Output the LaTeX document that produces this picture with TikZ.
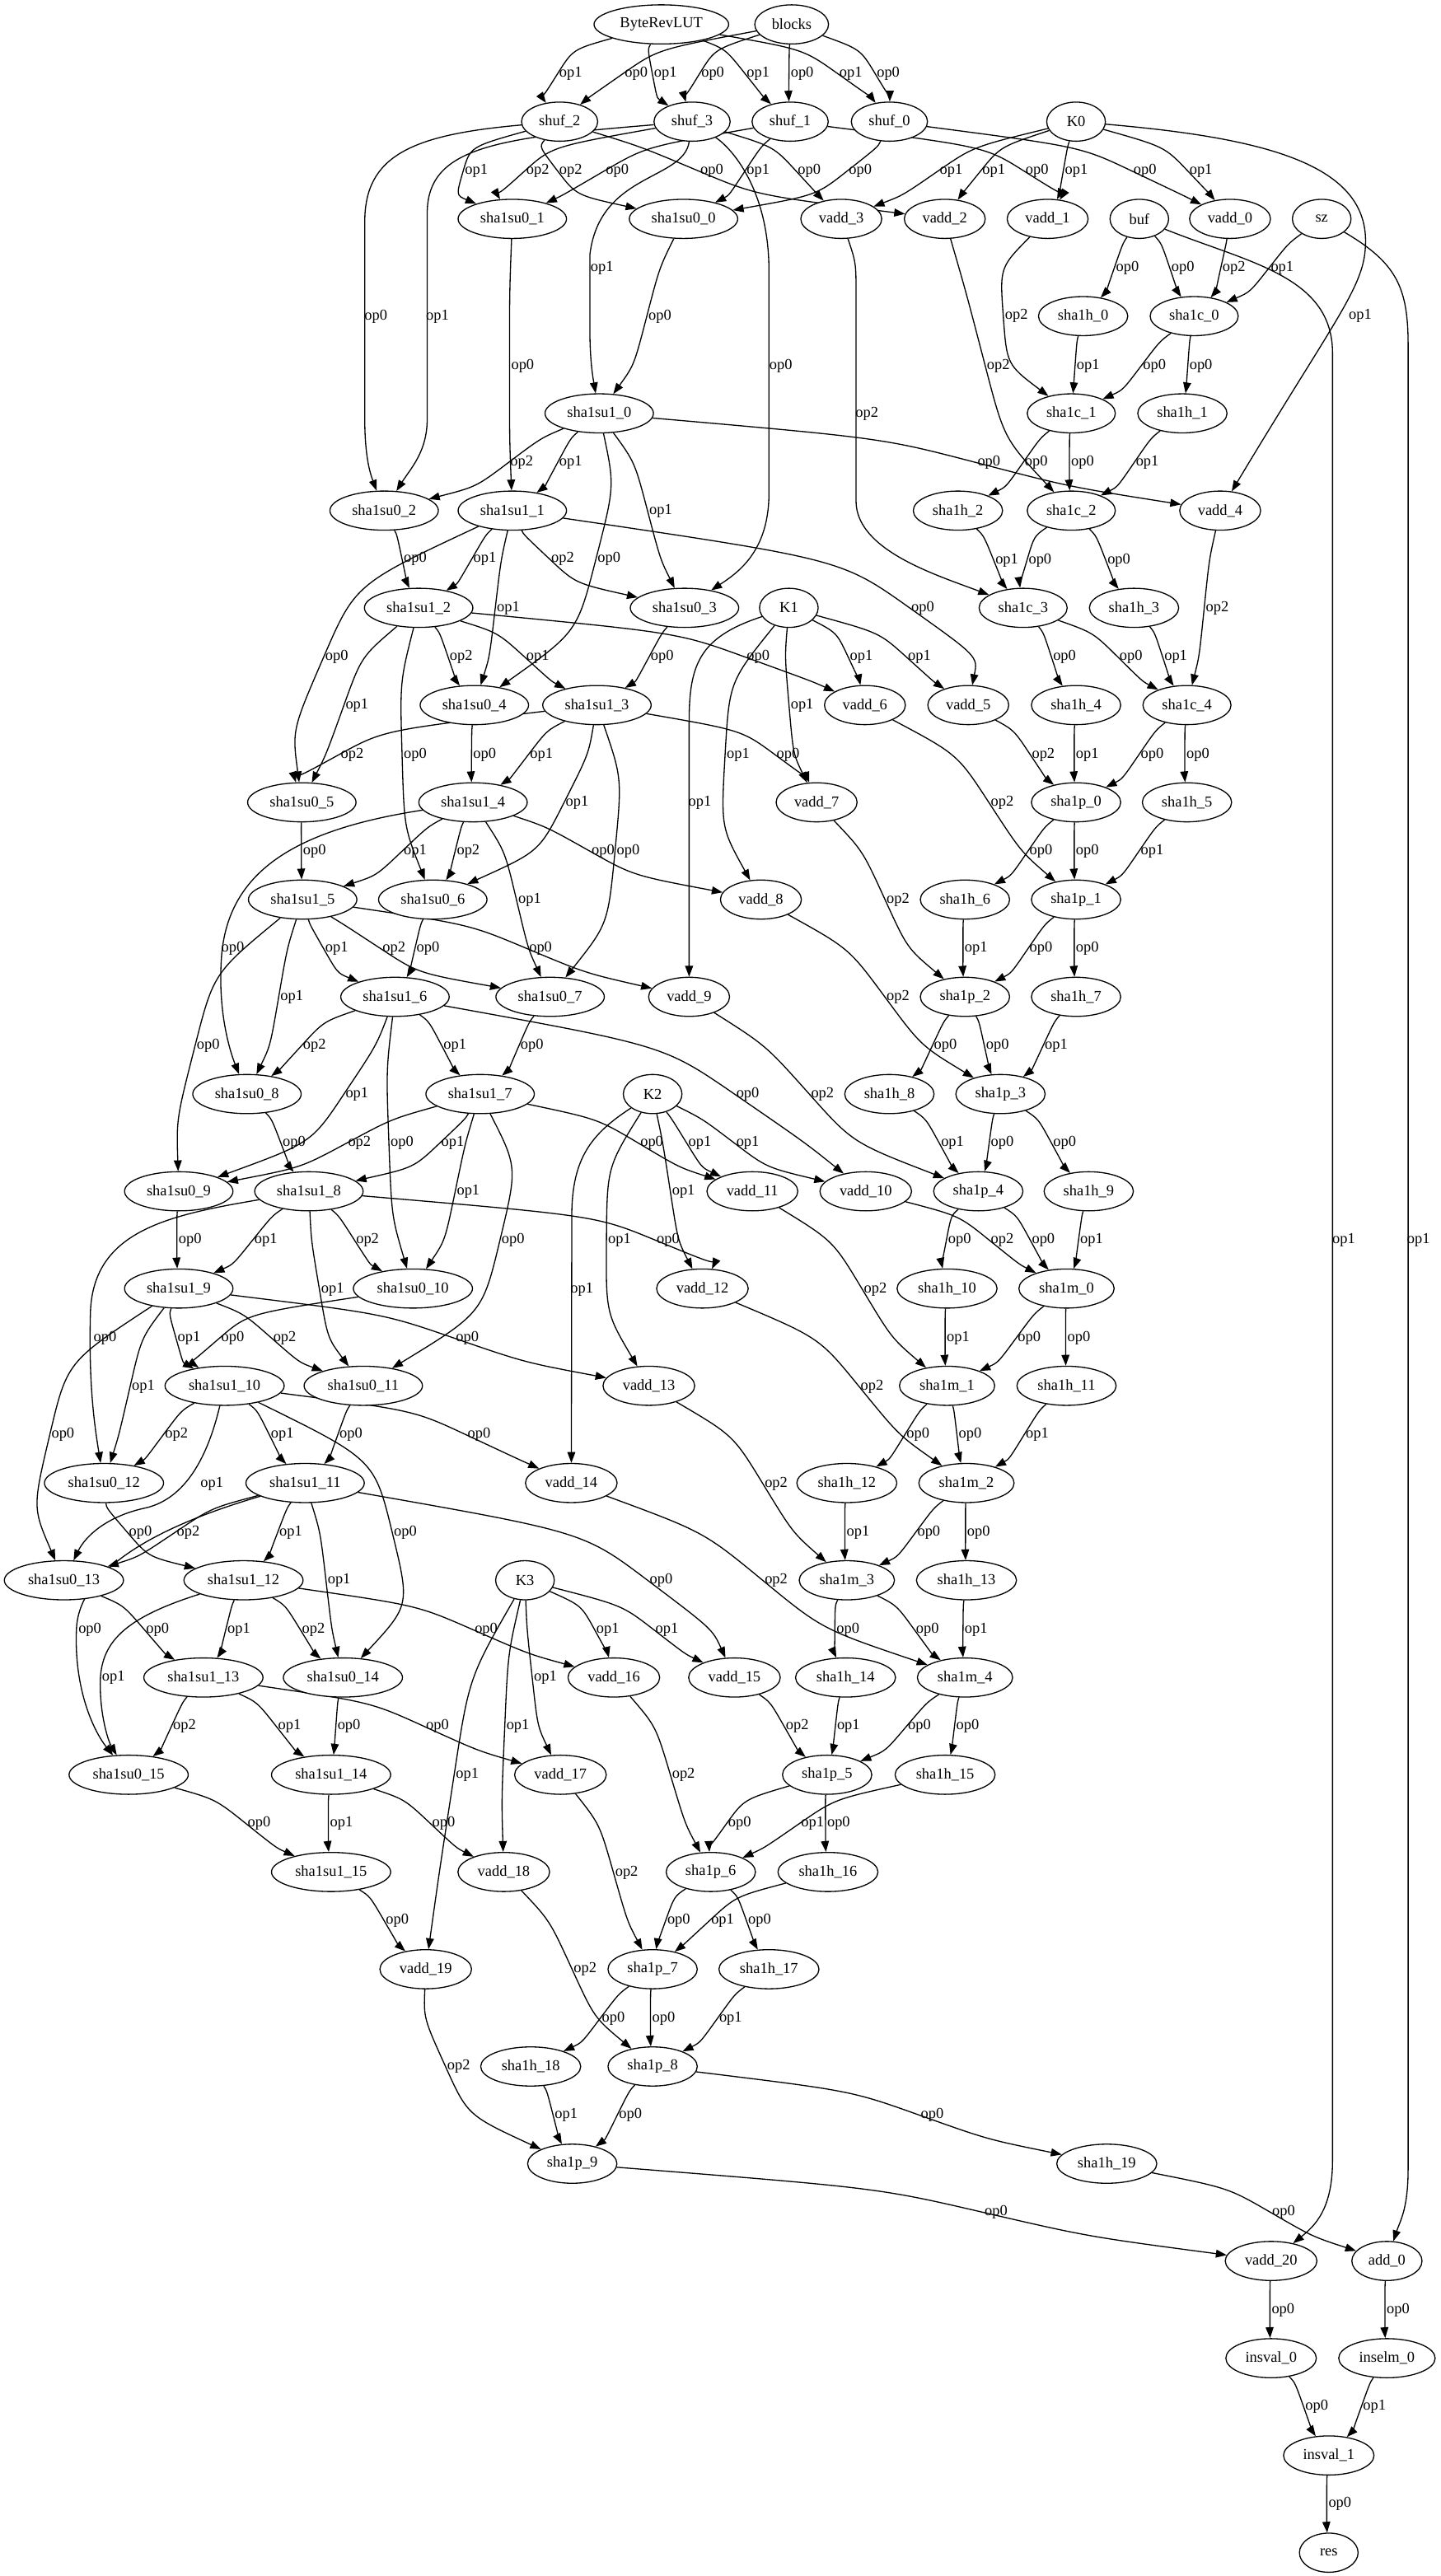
\documentclass[tikz,border=0pt]{standalone}
\usepackage{fontspec}
\setmainfont{Liberation Serif}
\usetikzlibrary{arrows.meta,shapes.geometric,calc}
\pgfdeclarelayer{bg}
\pgfsetlayers{bg,main}
\tikzset{
  nd/.style={draw, ellipse, line width=0.66pt, minimum width=35.7pt, minimum height=23.8pt, inner xsep=3.8pt, inner ysep=1pt, fill=white, font=\fontsize{9.25}{10}\selectfont},
  ed/.style={draw, line width=0.66pt, -{Triangle[length=6.6pt,width=4.8pt]}},
  lab/.style={inner sep=0pt, font=\fontsize{9.25}{10}\selectfont}
}
\newcommand\gvN[4]{\node[nd] (#1) at (#2,{-(14.85+59.19*#3)}) {#4};}
\newcommand\gvE[5]{\begin{pgfonlayer}{bg}\draw[ed] let \p1=(#1), \p2=(#2) in (#1) .. controls ({#4-8-0.15*((\x2)-(\x1))},{-#5-0.25*((\y2)-(\y1))}) .. ({#4-8},{-#5}) .. controls ({#4-8+0.15*((\x2)-(\x1))},{-#5+0.25*((\y2)-(\y1))}) .. (#2);\end{pgfonlayer}\node[lab] at (#4,-#5) {#3};}
\newcommand\gvM[4]{\begin{pgfonlayer}{bg}\draw[ed] #4;\end{pgfonlayer}\node[lab] at (#2,-#3) {#1};}
\begin{document}
\begin{tikzpicture}[x=1pt,y=1pt]
\useasboundingbox (0,0) rectangle (877,-1568);
% nodes
\gvN{brl}{402.5}{0}{ByteRevLUT}
\gvN{blocks}{481.8}{0}{blocks}
\gvN{shuf2}{340.6}{1}{shuf\_2}
\gvN{shuf3}{421.2}{1}{shuf\_3}
\gvN{shuf1}{480.9}{1}{shuf\_1}
\gvN{shuf0}{541.3}{1}{shuf\_0}
\gvN{K0}{654.9}{1}{K0}
\gvN{sa1}{311.8}{2}{sha1su0\_1}
\gvN{sa0}{416.0}{2}{sha1su0\_0}
\gvN{va3}{512.0}{2}{vadd\_3}
\gvN{va2}{575.0}{2}{vadd\_2}
\gvN{va1}{637.6}{2}{vadd\_1}
\gvN{buf}{693.4}{2}{buf}
\gvN{va0}{748.6}{2}{vadd\_0}
\gvN{sz}{804.4}{2}{sz}
\gvN{h0}{659.2}{3}{sha1h\_0}
\gvN{c0}{726.8}{3}{sha1c\_0}
\gvN{sb0}{364.7}{4}{sha1su1\_0}
\gvN{c1}{652.0}{4}{sha1c\_1}
\gvN{h1}{719.6}{4}{sha1h\_1}
\gvN{sa2}{233.8}{5}{sha1su0\_2}
\gvN{sb1}{311.8}{5}{sha1su1\_1}
\gvN{h2}{583.0}{5}{sha1h\_2}
\gvN{c2}{652.0}{5}{sha1c\_2}
\gvN{va4}{742.6}{5}{vadd\_4}
\gvN{sb2}{254.8}{6}{sha1su1\_2}
\gvN{sa3}{416.6}{6}{sha1su0\_3}
\gvN{K1}{480.1}{6}{K1}
\gvN{c3}{622.7}{6}{sha1c\_3}
\gvN{h3}{690.2}{6}{sha1h\_3}
\gvN{sa4}{288.7}{7}{sha1su0\_4}
\gvN{sb3}{363.3}{7}{sha1su1\_3}
\gvN{va6}{526.4}{7}{vadd\_6}
\gvN{va5}{589.3}{7}{vadd\_5}
\gvN{h4}{654.9}{7}{sha1h\_4}
\gvN{c4}{722.4}{7}{sha1c\_4}
\gvN{sa5}{183.7}{8}{sha1su0\_5}
\gvN{sb4}{287.9}{8}{sha1su1\_4}
\gvN{va7}{497.0}{8}{vadd\_7}
\gvN{p0}{654.9}{8}{sha1p\_0}
\gvN{h5}{722.4}{8}{sha1h\_5}
\gvN{sb5}{184.2}{9}{sha1su1\_5}
\gvN{sa6}{263.4}{9}{sha1su0\_6}
\gvN{va8}{463.1}{9}{vadd\_8}
\gvN{h6}{587.3}{9}{sha1h\_6}
\gvN{p1}{654.9}{9}{sha1p\_1}
\gvN{sb6}{240.4}{10}{sha1su1\_6}
\gvN{sa7}{334.8}{10}{sha1su0\_7}
\gvN{va9}{419.4}{10}{vadd\_9}
\gvN{p2}{587.3}{10}{sha1p\_2}
\gvN{h7}{654.9}{10}{sha1h\_7}
\gvN{sa8}{150.3}{11}{sha1su0\_8}
\gvN{sb7}{292.2}{11}{sha1su1\_7}
\gvN{K2}{397.2}{11}{K2}
\gvN{h8}{541.3}{11}{sha1h\_8}
\gvN{p3}{608.9}{11}{sha1p\_3}
\gvN{sa9}{108.8}{12}{sha1su0\_9}
\gvN{sb8}{188.0}{12}{sha1su1\_8}
\gvN{va11}{457.9}{12}{vadd\_11}
\gvN{va10}{526.9}{12}{vadd\_10}
\gvN{p4}{595.4}{12}{sha1p\_4}
\gvN{h9}{662.6}{12}{sha1h\_9}
\gvN{sb9}{108.8}{13}{sha1su1\_9}
\gvN{sa10}{251.3}{13}{sha1su0\_10}
\gvN{va12}{427.5}{13}{vadd\_12}
\gvN{h10}{576.4}{13}{sha1h\_10}
\gvN{m0}{649.1}{13}{sha1m\_0}
\gvN{sb10}{136.7}{14}{sha1su1\_10}
\gvN{sa11}{221.1}{14}{sha1su0\_11}
\gvN{va13}{394.9}{14}{vadd\_13}
\gvN{m1}{576.4}{14}{sha1m\_1}
\gvN{h11}{649.1}{14}{sha1h\_11}
\gvN{sa12}{63.3}{15}{sha1su0\_12}
\gvN{sb11}{185.7}{15}{sha1su1\_11}
\gvN{va14}{347.7}{15}{vadd\_14}
\gvN{h12}{515.4}{15}{sha1h\_12}
\gvN{m2}{588.2}{15}{sha1m\_2}
\gvN{sa13}{38.9}{16}{sha1su0\_13}
\gvN{sb12}{148.2}{16}{sha1su1\_12}
\gvN{K3}{319.5}{16}{K3}
\gvN{m3}{515.4}{16}{sha1m\_3}
\gvN{h13}{588.2}{16}{sha1h\_13}
\gvN{sb13}{123.8}{17}{sha1su1\_13}
\gvN{sa14}{208.7}{17}{sha1su0\_14}
\gvN{va16}{373.6}{17}{vadd\_16}
\gvN{va15}{447.0}{17}{vadd\_15}
\gvN{h14}{514.6}{17}{sha1h\_14}
\gvN{m4}{587.3}{17}{sha1m\_4}
\gvN{sa15}{78.3}{18}{sha1su0\_15}
\gvN{sb14}{201.5}{18}{sha1su1\_14}
\gvN{va17}{341.1}{18}{vadd\_17}
\gvN{p5}{503.4}{18}{sha1p\_5}
\gvN{h15}{575.2}{18}{sha1h\_15}
\gvN{sb15}{201.5}{19}{sha1su1\_15}
\gvN{va18}{306.6}{19}{vadd\_18}
\gvN{p6}{432.6}{19}{sha1p\_6}
\gvN{h16}{503.9}{19}{sha1h\_16}
\gvN{va19}{259.1}{20}{vadd\_19}
\gvN{p7}{397.2}{20}{sha1p\_7}
\gvN{h17}{468.0}{20}{sha1h\_17}
\gvN{h18}{323.0}{21}{sha1h\_18}
\gvN{p8}{397.2}{21}{sha1p\_8}
\gvN{p9}{348.3}{22}{sha1p\_9}
\gvN{h19}{673.6}{22}{sha1h\_19}
\gvN{va20}{773.6}{23}{vadd\_20}
\gvN{add0}{844.1}{23}{add\_0}
\gvN{insval0}{773.6}{24}{insval\_0}
\gvN{inselm0}{844.1}{24}{inselm\_0}
\gvN{insval1}{808.7}{25}{insval\_1}
\gvN{res}{808.7}{26}{res}
% top
\gvE{brl}{shuf2}{op1}{347.4}{44.8}
\gvE{blocks}{shuf2}{op0}{387.2}{44.8}
\gvE{brl}{shuf3}{op1}{405}{44.8}
\gvE{blocks}{shuf3}{op0}{433.8}{44.8}
\gvE{brl}{shuf1}{op1}{461.4}{44.8}
\gvE{blocks}{shuf1}{op0}{488.2}{44.8}
\gvE{brl}{shuf0}{op1}{517.8}{44.8}
\gvE{blocks}{shuf0}{op0}{540.6}{44.8}
% sha1su0 inputs
\gvE{shuf0}{sa0}{op0}{523.6}{104.1}
\gvE{shuf1}{sa0}{op1}{461.4}{104.1}
\gvE{shuf2}{sa0}{op2}{347.4}{104.1}
\gvE{shuf1}{sa1}{op0}{375.7}{104.1}
\gvE{shuf2}{sa1}{op1}{289.9}{104.1}
\gvE{shuf3}{sa1}{op2}{327.3}{104.1}
\gvM{op0}{228.8}{192.7}{(shuf2) .. controls (250,-82) and (222,-95) .. (222,-135) -- (222,-255) .. controls (222,-280) and (226,-290) .. (sa2)}
\gvM{op1}{266.3}{192.7}{(shuf3) .. controls (300,-84) and (260,-90) .. (260,-130) -- (260,-255) .. controls (260,-275) and (250,-285) .. (sa2)}
\gvE{sb0}{sa2}{op2}{317.5}{281.5}
\gvM{op0}{475.2}{222.6}{(shuf3) .. controls (445,-90) and (468,-115) .. (468,-165) -- (468,-300) .. controls (468,-335) and (450,-348) .. (sa3)}
\gvE{sb0}{sa3}{op1}{402.1}{310.9}
\gvE{sb1}{sa3}{op2}{342.5}{340.3}
\gvE{sb0}{sa4}{op0}{370.7}{340.3}
\gvE{sb1}{sa4}{op1}{309.4}{370.3}
\gvE{sb2}{sa4}{op2}{280.7}{399.9}
\gvE{sb1}{sa5}{op0}{205}{399.9}
\gvE{sb2}{sa5}{op1}{217.3}{429.3}
\gvE{sb3}{sa5}{op2}{214.4}{459.3}
\gvE{sb2}{sa6}{op0}{252.7}{459.3}
\gvE{sb3}{sa6}{op1}{351.2}{488.7}
\gvE{sb4}{sa6}{op2}{285}{518.1}
\gvE{sb3}{sa7}{op0}{382.3}{518.1}
\gvE{sb4}{sa7}{op1}{322.4}{548}
\gvE{sb5}{sa7}{op2}{239.8}{577.5}
\gvM{op0}{141.6}{577.5}{(sb4) .. controls (180,-505) and (140,-530) .. (135,-580) .. controls (132,-615) and (140,-640) .. (sa8)}
\gvE{sb5}{sa8}{op1}{177.6}{606.9}
\gvE{sb6}{sa8}{op2}{191.4}{636.6}
\gvE{sb5}{sa9}{op0}{126.7}{636.6}
\gvE{sb6}{sa9}{op1}{217.3}{666}
\gvE{sb7}{sa9}{op2}{218.8}{695.9}
\gvE{sb6}{sa10}{op0}{244.7}{695.9}
\gvE{sb7}{sa10}{op1}{285}{725.4}
\gvE{sb8}{sa10}{op2}{223.7}{754.8}
\gvE{sb7}{sa11}{op0}{312.3}{754.8}
\gvE{sb8}{sa11}{op1}{202.4}{784.8}
\gvE{sb9}{sa11}{op2}{173.3}{814.5}
\gvM{op0}{63.9}{814.5}{(sb8) .. controls (100,-740) and (56,-750) .. (55,-800) .. controls (54,-840) and (57,-865) .. (sa12)}
\gvE{sb9}{sa12}{op1}{87.2}{843.9}
\gvE{sb10}{sa12}{op2}{107.4}{873.3}
\gvE{sb9}{sa13}{op0}{38.3}{873.3}
\gvM{op1}{129}{903.3}{(sb10) .. controls (128,-880) and (116,-912) .. (88,-918) .. controls (65,-923) and (52,-935) .. (sa13)}
\gvE{sb11}{sa13}{op2}{114.6}{932.7}
\gvE{sb10}{sa14}{op0}{246.7}{932.7}
\gvE{sb11}{sa14}{op1}{206.4}{962.1}
\gvE{sb12}{sa14}{op2}{190.8}{992}
\gvM{op0}{54.7}{992}{(sb11) .. controls (110,-925) and (48,-950) .. (46.5,-992) .. controls (45,-1030) and (58,-1055) .. (sa15)}
\gvM{op1}{69.1}{1021}{(sb12) .. controls (75,-985) and (61,-1000) .. (61,-1025) .. controls (61,-1045) and (66,-1060) .. (sa15)}
\gvE{sb13}{sa15}{op2}{112.3}{1050.9}
% sha1su1 inputs
\gvE{sa0}{sb0}{op0}{401.6}{192.7}
\gvM{op1}{366.4}{163}{(shuf3) .. controls (416,-110) and (365,-105) .. (359,-155) -- (359,-200) .. controls (359,-215) and (360,-225) .. (sb0)}
\gvE{sa1}{sb1}{op0}{318.1}{222.6}
\gvE{sb0}{sb1}{op1}{347.4}{281.5}
\gvE{sa2}{sb2}{op0}{252.7}{340.3}
\gvE{sb1}{sb2}{op1}{295.1}{340.3}
\gvE{sa3}{sb3}{op0}{403}{399.9}
\gvE{sb2}{sb3}{op1}{327.3}{399.9}
\gvE{sa4}{sb4}{op0}{295}{459.3}
\gvE{sb3}{sb4}{op1}{329.6}{459.3}
\gvE{sa5}{sb5}{op0}{191.4}{518.1}
\gvE{sb4}{sb5}{op1}{252.7}{518.1}
\gvE{sa6}{sb6}{op0}{260.5}{577.5}
\gvE{sb5}{sb6}{op1}{205}{577.5}
\gvE{sa7}{sb7}{op0}{323.8}{636.6}
\gvE{sb6}{sb7}{op1}{276.9}{636.6}
\gvE{sa8}{sb8}{op0}{179}{695.9}
\gvE{sb7}{sb8}{op1}{275.5}{695.9}
\gvE{sa9}{sb9}{op0}{115.7}{754.8}
\gvE{sb8}{sb9}{op1}{161.8}{754.8}
\gvE{sa10}{sb10}{op0}{141.6}{814.5}
\gvE{sb9}{sb10}{op1}{115.1}{814.5}
\gvE{sa11}{sb11}{op0}{213.6}{873.3}
\gvE{sb10}{sb11}{op1}{171.9}{873.3}
\gvE{sa12}{sb12}{op0}{85.5}{932.7}
\gvE{sb11}{sb12}{op1}{177}{932.7}
\gvE{sa13}{sb13}{op0}{95.9}{992}
\gvE{sb12}{sb13}{op1}{145.4}{992}
\gvE{sa14}{sb14}{op0}{212.4}{1050.9}
\gvE{sb13}{sb14}{op1}{176.2}{1050.9}
\gvE{sa15}{sb15}{op0}{157.7}{1110}
\gvE{sb14}{sb15}{op1}{207.8}{1110}
% vadd inputs
\gvE{shuf0}{va0}{op0}{696.9}{104.1}
\gvE{K0}{va0}{op1}{730.9}{104.1}
\gvE{shuf1}{va1}{op0}{631.2}{104.1}
\gvE{K0}{va1}{op1}{655.1}{104.1}
\gvE{shuf2}{va2}{op0}{433.2}{104.1}
\gvE{K0}{va2}{op1}{604.8}{104.1}
\gvE{shuf3}{va3}{op0}{492.5}{104.1}
\gvE{K0}{va3}{op1}{578.9}{104.1}
\gvE{sb0}{va4}{op0}{601.9}{281.5}
\gvM{op1}{827.9}{192.4}{(K0) .. controls (770,-84) and (834,-100) .. (831,-150) .. controls (830,-175) and (812,-195) .. (va4)}
\gvE{sb1}{va5}{op0}{561.6}{370}
\gvE{K1}{va5}{op1}{559.6}{399.9}
\gvE{sb2}{va6}{op0}{461.4}{399.9}
\gvE{K1}{va6}{op1}{524.2}{399.9}
\gvE{sb3}{va7}{op0}{479.6}{459.3}
\gvE{K1}{va7}{op1}{488.2}{429.3}
\gvE{sb4}{va8}{op0}{367}{518.1}
\gvE{K1}{va8}{op1}{449.3}{459.3}
\gvE{sb5}{va9}{op0}{329}{577.5}
\gvM{op1}{426}{488.7}{(K1) .. controls (425,-388) and (419.4,-405) .. (419.4,-440) -- (va9)}
\gvE{sb6}{va10}{op0}{455.1}{666}
\gvE{K2}{va10}{op1}{455.1}{695.9}
\gvE{sb7}{va11}{op0}{396.7}{695.9}
\gvE{K2}{va11}{op1}{426}{695.9}
\gvE{sb8}{va12}{op0}{406.7}{754.8}
\gvE{K2}{va12}{op1}{416}{725.4}
\gvE{sb9}{va13}{op0}{284.4}{814.5}
\gvE{K2}{va13}{op1}{377.1}{754.8}
\gvE{sb10}{va14}{op0}{291.6}{873.3}
\gvM{op1}{354.1}{784.8}{(K2) .. controls (360,-690) and (348,-705) .. (348,-740) -- (va14)}
\gvE{sb11}{va15}{op0}{402.4}{962.1}
\gvE{K3}{va15}{op1}{405.9}{992}
\gvE{sb12}{va16}{op0}{295.9}{992}
\gvE{K3}{va16}{op1}{369.9}{992}
\gvE{sb13}{va17}{op0}{266.3}{1050.9}
\gvE{K3}{va17}{op1}{331.9}{1021}
\gvE{sb14}{va18}{op0}{270}{1110}
\gvE{K3}{va18}{op1}{315.2}{1050.9}
\gvE{sb15}{va19}{op0}{241.8}{1169.1}
\gvE{K3}{va19}{op1}{284.4}{1080.3}
% hash rounds
\gvE{buf}{h0}{op0}{686.2}{163}
\gvE{buf}{c0}{op0}{719.9}{163}
\gvE{sz}{c0}{op1}{780.4}{163}
\gvE{va0}{c0}{op2}{751}{163}
\gvE{c0}{h1}{op0}{730.9}{222.6}
\gvE{c0}{c1}{op0}{702.6}{222.6}
\gvE{h0}{c1}{op1}{662.3}{222.6}
\gvE{va1}{c1}{op2}{618.6}{192.4}
\gvE{c1}{h2}{op0}{630.7}{281.5}
\gvE{c1}{c2}{op0}{658.9}{281.5}
\gvE{h1}{c2}{op1}{698.3}{281.5}
\gvE{va2}{c2}{op2}{607.6}{222.6}
\gvE{c2}{h3}{op0}{681}{341.1}
\gvE{c2}{c3}{op0}{633}{341.1}
\gvE{h2}{c3}{op1}{612.8}{341.1}
\gvM{op2}{527.6}{252}{(va3) .. controls (521,-160) .. (521,-180) -- (521,-305) .. controls (521,-335) and (570,-350) .. (c3)}
\gvE{c3}{h4}{op0}{647.9}{399.9}
\gvE{c3}{c4}{op0}{688.3}{399.9}
\gvE{h3}{c4}{op1}{715.6}{399.9}
\gvE{va4}{c4}{op2}{740.9}{370}
\gvE{c4}{h5}{op0}{729.1}{459.3}
\gvE{c4}{p0}{op0}{701.2}{459.3}
\gvE{h4}{p0}{op1}{661.8}{459.3}
\gvE{va5}{p0}{op2}{635}{459.3}
\gvE{p0}{h6}{op0}{633.6}{518.1}
\gvE{p0}{p1}{op0}{661.8}{518.1}
\gvE{h5}{p1}{op1}{701.2}{518.1}
\gvE{va6}{p1}{op2}{610}{488.7}
\gvE{p1}{h7}{op0}{661.8}{577.5}
\gvE{p1}{p2}{op0}{633.6}{577.5}
\gvE{h6}{p2}{op1}{594.1}{577.5}
\gvE{va7}{p2}{op2}{546.6}{547.5}
\gvE{p2}{h8}{op0}{575.4}{636.6}
\gvE{p2}{p3}{op0}{607.1}{636.6}
\gvE{h7}{p3}{op1}{642.8}{636.6}
\gvE{va8}{p3}{op2}{546.6}{606.9}
\gvE{p3}{h9}{op0}{648}{695.9}
\gvE{p3}{p4}{op0}{610}{695.9}
\gvE{h8}{p4}{op1}{579.7}{695.9}
\gvE{va9}{p4}{op2}{500.6}{666}
\gvE{p4}{h10}{op0}{584}{754.8}
\gvE{p4}{m0}{op0}{635}{754.8}
\gvE{h9}{m0}{op1}{664.4}{754.8}
\gvE{va10}{m0}{op2}{610}{754.8}
\gvE{m0}{h11}{op0}{656.6}{814.5}
\gvE{m0}{m1}{op0}{626.4}{814.5}
\gvE{h10}{m1}{op1}{583.2}{814.5}
\gvE{va11}{m1}{op2}{532.8}{784.8}
\gvE{m1}{h12}{op0}{558.7}{873.3}
\gvE{m1}{m2}{op0}{590.4}{873.3}
\gvE{h11}{m2}{op1}{631.3}{873.3}
\gvE{va12}{m2}{op2}{530.8}{843.9}
\gvE{m2}{h13}{op0}{595.6}{932.7}
\gvE{m2}{m3}{op0}{565.3}{932.7}
\gvE{h12}{m3}{op1}{522.2}{932.7}
\gvE{va13}{m3}{op2}{472.4}{903.3}
\gvE{m3}{h14}{op0}{516.1}{992}
\gvE{m3}{m4}{op0}{564.5}{992}
\gvE{h13}{m4}{op1}{594.1}{992}
\gvE{va14}{m4}{op2}{472.4}{962.1}
\gvE{m4}{h15}{op0}{588.9}{1050.9}
\gvE{m4}{p5}{op0}{559.6}{1050.9}
\gvE{h14}{p5}{op1}{516.4}{1050.9}
\gvE{va15}{p5}{op2}{485.3}{1050.9}
\gvE{p5}{h16}{op0}{510.4}{1110}
\gvE{p5}{p6}{op0}{450.2}{1110}
\gvE{h15}{p6}{op1}{494.5}{1110}
\gvE{va16}{p6}{op2}{416}{1080.3}
\gvE{p6}{h17}{op0}{462.3}{1169.1}
\gvE{p6}{p7}{op0}{413.1}{1169.1}
\gvE{h16}{p7}{op1}{439.8}{1169.1}
\gvE{va17}{p7}{op2}{381.4}{1140}
\gvE{p7}{h18}{op0}{373.3}{1228.5}
\gvE{p7}{p8}{op0}{403.9}{1228.5}
\gvE{h17}{p8}{op1}{444.7}{1228.5}
\gvE{va18}{p8}{op2}{356.1}{1198.5}
\gvE{p8}{h19}{op0}{567.4}{1287.4}
\gvE{p8}{p9}{op0}{383.7}{1287.4}
\gvE{h18}{p9}{op1}{344.6}{1287.4}
\gvE{va19}{p9}{op2}{279.2}{1258}
% final
\gvE{p9}{va20}{op0}{606.2}{1346.6}
\gvM{op1}{817.8}{754.8}{(buf) .. controls (760,-160) and (811,-168) .. (811,-215) -- (811,-1315) .. controls (811,-1345) and (800,-1355) .. (va20)}
\gvE{h19}{add0}{op0}{781.2}{1346.6}
\gvM{op1}{863.3}{754.8}{(sz) .. controls (850,-160) and (857,-175) .. (857,-210) -- (857,-1320) .. controls (857,-1345) and (852,-1352) .. (add0)}
\gvE{va20}{insval0}{op0}{780.9}{1406.1}
\gvE{add0}{inselm0}{op0}{850.9}{1406.1}
\gvE{insval0}{insval1}{op0}{801.4}{1465}
\gvE{inselm0}{insval1}{op1}{836.5}{1465}
\gvE{insval1}{res}{op0}{815.5}{1523.9}
\end{tikzpicture}
\end{document}
